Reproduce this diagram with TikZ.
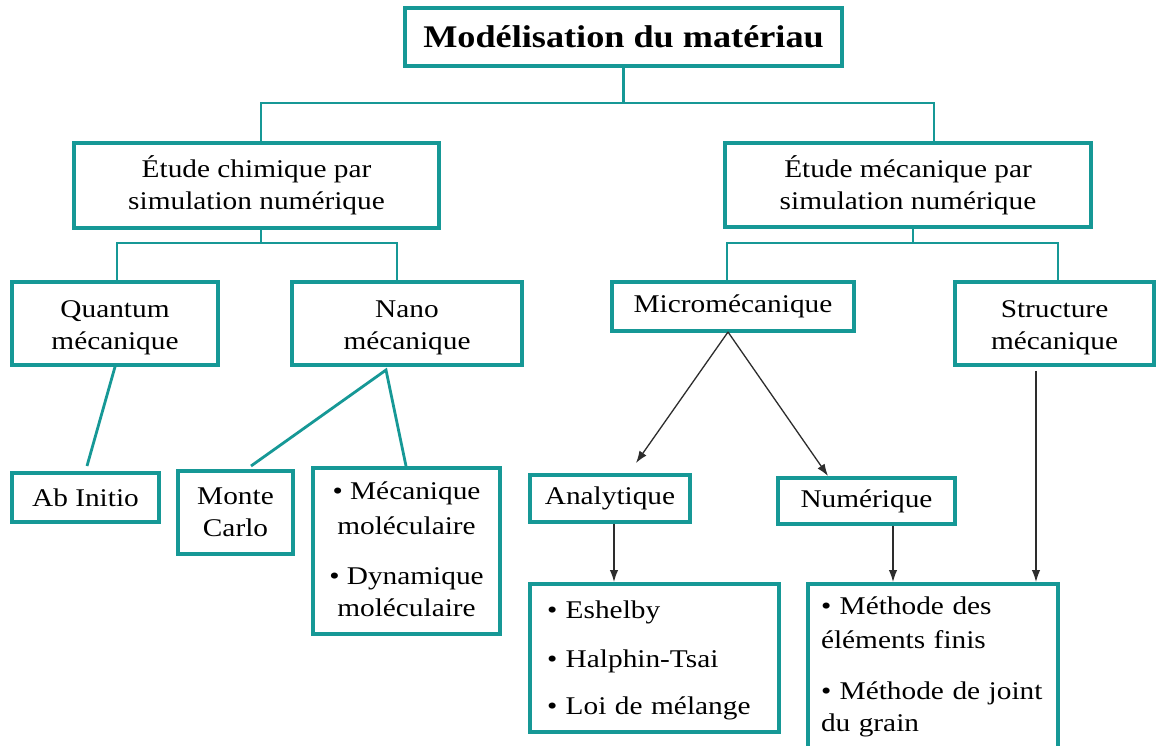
\documentclass[tikz,border=0pt]{standalone}
\usepackage{fontspec}
\setmainfont{Liberation Serif}[FakeStretch=1.15]
\usetikzlibrary{arrows.meta,calc}
\definecolor{tealc}{RGB}{22,152,150}
\definecolor{arrowc}{RGB}{45,45,45}
\newcommand{\topstrut}[1]{\rule{0pt}{#1}}
\newcommand{\botstrut}[1]{\rule[-#1]{0pt}{#1}}
\begin{document}
\begin{tikzpicture}[x=1pt,y=-1pt,
  box/.style={draw=tealc,line width=3.6pt,fill=white,inner sep=0pt,align=center,
    font=\fontsize{25.5}{32}\selectfont},
  tline/.style={draw=tealc,line width=2.8pt},
  arr/.style={draw=arrowc,line width=1.3pt,-{Latex[length=12pt,width=8.5pt]}},
]
\useasboundingbox (0,0) rectangle (1156,746);
\fill[white] (0,0) rectangle (1156,746);
\clip (0,0) rectangle (1156,746);

% top level
\node[box,minimum width=437pt,minimum height=58pt,font=\fontsize{31.5}{36}\selectfont\bfseries] (title) at (623.5,37) {Modélisation du matériau};

% level 2
\node[box,minimum width=365pt,minimum height=85pt] (chim) at (256.5,185.5) {Étude chimique par\\simulation numérique};
\node[box,minimum width=366pt,minimum height=84pt] (meca) at (908,185) {Étude mécanique par\\simulation numérique};

% level 3
\node[box,minimum width=206pt,minimum height=83pt] (quant) at (115,323.5) {\topstrut{26pt}Quantum\\mécanique};
\node[box,minimum width=230pt,minimum height=83pt] (nano) at (407,323.5) {\topstrut{26pt}Nano\\mécanique};
\node[box,minimum width=242pt,minimum height=49pt] (micro) at (733,306.5) {Micromécanique};
\node[box,minimum width=199pt,minimum height=83pt] (struct) at (1054.5,323.5) {\topstrut{26pt}Structure\\mécanique};

% level 4
\node[box,minimum width=147pt,minimum height=49pt] (abinit) at (85.5,497.5) {Ab Initio};
\node[box,minimum width=115pt,minimum height=83pt] (monte) at (235.5,512.5) {Monte\\Carlo};
\node[box,minimum width=187pt,anchor=north,inner ysep=8pt] (mecmol) at (406.5,466)
  {\topstrut{24pt}\textbullet\ Mécanique\\[3pt]moléculaire\\[18pt]\textbullet\ Dynamique\\moléculaire\botstrut{9pt}};
\node[box,minimum width=160pt,minimum height=47pt] (analyt) at (610,498.5) {Analytique};
\node[box,minimum width=177pt,minimum height=46pt] (numer) at (866.5,501) {Numérique};

% level 5
\node[box,text width=215pt,align=left,inner xsep=17pt,inner ysep=8pt,anchor=north] (eshel) at (654.5,582)
  {\topstrut{27pt}\textbullet\ Eshelby\\[17pt]\textbullet\ Halphin-Tsai\\[15pt]\textbullet\ Loi de mélange\botstrut{9pt}};
\node[box,text width=224pt,align=left,inner xsep=13pt,inner ysep=8pt,anchor=north] (methode) at (933,582)
  {\topstrut{23pt}\textbullet\ Méthode des\\[2pt]éléments finis\\[19pt]\textbullet\ Méthode de joint\\du grain\botstrut{40pt}};

% teal connectors
\coordinate (h1L) at (261,103);
\coordinate (h1R) at (934,103);
\draw[tline] (title.south) -- (title.south |- h1L);
\draw[tline] (chim.north -| h1L) -- (h1L) -- (h1R) -- (meca.north -| h1R);

\coordinate (h2M) at (261,243);
\coordinate (h2L) at (117,243);
\coordinate (h2R) at (397,243);
\draw[tline] (chim.south -| h2M) -- (h2M);
\draw[tline] (quant.north -| h2L) -- (h2L) -- (h2R) -- (nano.north -| h2R);

\coordinate (h3M) at (913,243);
\coordinate (h3L) at (727,243);
\coordinate (h3R) at (1058,243);
\draw[tline] (meca.south -| h3M) -- (h3M);
\draw[tline] (micro.north -| h3L) -- (h3L) -- (h3R) -- (struct.north -| h3R);

\coordinate (qe) at (87,466);
\draw[tline] (quant.south) -- (qe);

\coordinate (nv) at (386,370);
\coordinate (mc) at (251,466);
\coordinate (mm) at (406,466);
\draw[tline] (mc) -- (nv) -- (mecmol.north -| mm);

% black arrows
\coordinate (mv) at (728,332);
\coordinate (at) at (636,463);
\coordinate (nt) at (828,476);
\draw[arr] (mv) -- (at);
\draw[arr] (mv) -- (nt);
\coordinate (ax) at (614,0);
\coordinate (nx) at (893,0);
\coordinate (sx) at (1036,0);
\draw[arr] (analyt.south -| ax) -- (eshel.north -| ax);
\draw[arr] (numer.south -| nx) -- (methode.north -| nx);
\draw[arr] ($(struct.south -| sx)+(0,4)$) -- (methode.north -| sx);
\end{tikzpicture}
\end{document}
